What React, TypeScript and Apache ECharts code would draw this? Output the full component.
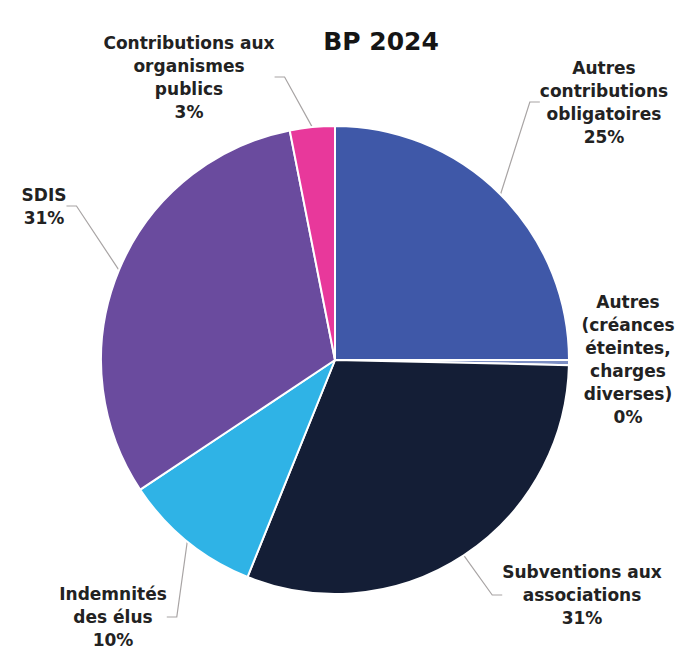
import React, { useEffect, useRef } from "react";
import * as echarts from "echarts";

// ---- data ----
const categories = [
  "Autres contributions obligatoires",
  "Autres (créances éteintes, charges diverses)",
  "Subventions aux associations",
  "Indemnités des élus",
  "SDIS",
  "Contributions aux organismes publics",
];
const labelTexts = [
  "Autres\ncontributions\nobligatoires",
  "Autres\n(créances\néteintes,\ncharges\ndiverses)",
  "Subventions aux\nassociations",
  "Indemnités\ndes élus",
  "SDIS",
  "Contributions aux\norganismes\npublics",
];
const shares = [25.0, 0.35, 30.75, 9.55, 31.25, 3.1];
const title = "BP 2024";

// ---- styling ----
const colors = ["#3f58a8", "#7d8fc4", "#141e36", "#2fb3e6", "#6a4b9e", "#e8389b"];
const labelAnchors: [number, number][] = [
  [604, 102],
  [628, 359],
  [582, 595],
  [113, 617],
  [44, 206],
  [189, 77],
];
const showLine = [true, false, true, true, true, true];

export default function App() {
  const ref = useRef<HTMLDivElement>(null);
  useEffect(() => {
    document.body.style.margin = "0";
    if (!ref.current) return;
    const chart = echarts.init(ref.current, undefined, { renderer: "svg" });
    chart.setOption({
      animation: false,
      backgroundColor: "#ffffff",
      title: {
        text: title,
        left: 376,
        top: 24,
        textAlign: "center",
        textStyle: {
          fontFamily: "DejaVu Sans",
          fontWeight: "bold",
          fontSize: 25,
          color: "#151515",
        },
      },
      series: [
        {
          type: "pie",
          center: [335, 360],
          radius: 234,
          startAngle: 90,
          clockwise: true,
          avoidLabelOverlap: false,
          itemStyle: { borderColor: "#ffffff", borderWidth: 2 },
          label: {
            show: true,
            position: "outside",
            fontFamily: "DejaVu Sans",
            fontWeight: "bold",
            fontSize: 17,
            lineHeight: 23,
            color: "#222222",
            align: "center",
            formatter: (p: any) =>
              `${labelTexts[p.dataIndex]}\n${Math.round(p.value)}%`,
          },
          labelLine: {
            show: true,
            length: 10,
            length2: 10,
            lineStyle: { color: "#a8a4a4", width: 1.2 },
          },
          labelLayout: (params: any) => {
            const a = labelAnchors[params.dataIndex];
            return {
              x: a[0],
              y: a[1],
              align: "center",
              verticalAlign: "middle",
            };
          },
          data: categories.map((name, i) => ({
            name,
            value: shares[i],
            itemStyle: { color: colors[i] },
            labelLine: { show: showLine[i] },
          })),
        },
      ],
    });
    return () => chart.dispose();
  }, []);
  return <div ref={ref} style={{ width: 677, height: 653 }} />;
}
